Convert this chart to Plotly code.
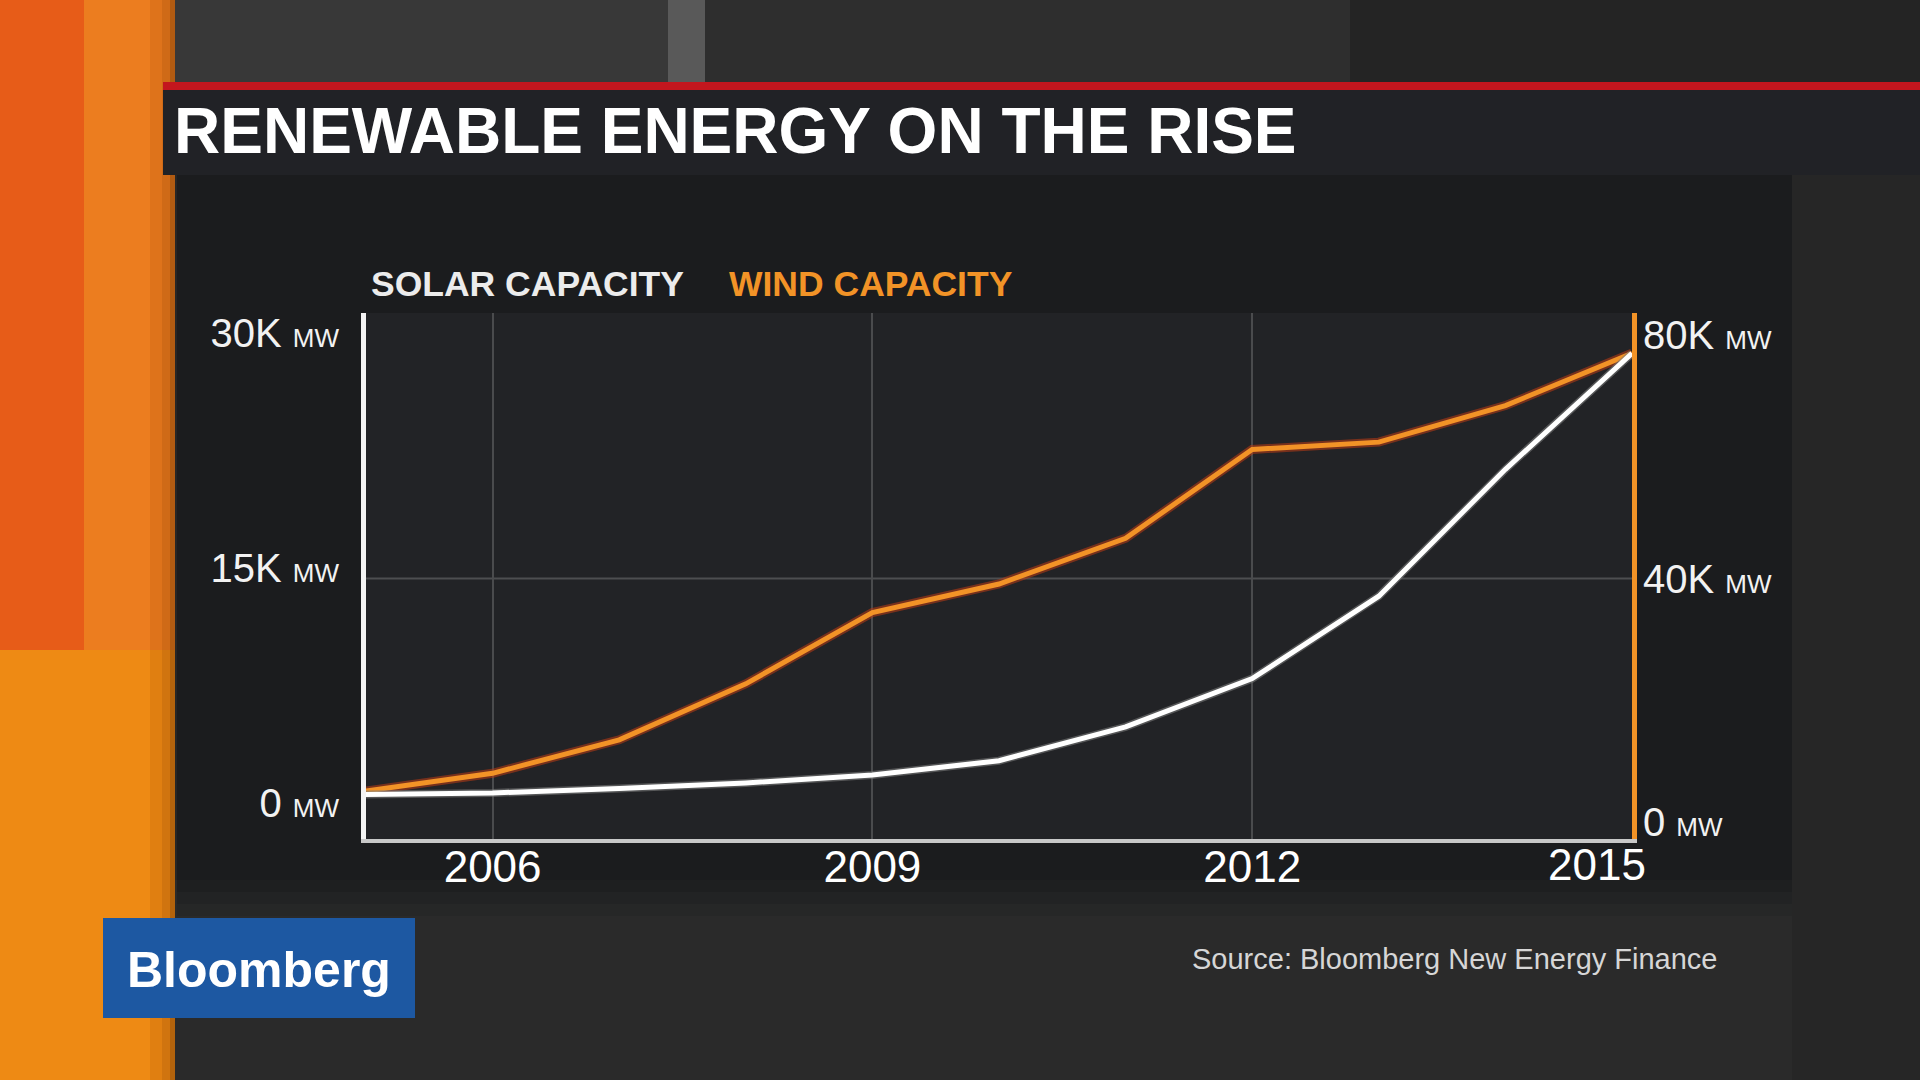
import plotly.graph_objects as go

# ---------------- data ----------------
years = [2005, 2006, 2007, 2008, 2009, 2010, 2011, 2012, 2013, 2014, 2015]
solar_mw = [540, 640, 920, 1280, 1790, 2700, 4860, 7940, 13200, 21300, 28700]
wind_mw = [5100, 8000, 13500, 22700, 34400, 39100, 46600, 61200, 62400, 68400, 77000]

x_ticks = [2006, 2009, 2012]
x_last = 2015
solar_ticks = [0, 15000, 30000]
solar_tick_text = ["0", "15K", "30K"]
wind_ticks = [0, 40000, 80000]
wind_tick_text = ["0", "40K", "80K"]

title_text = "RENEWABLE ENERGY ON THE RISE"
solar_name = "SOLAR CAPACITY"
wind_name = "WIND CAPACITY"
source_text = "Source: Bloomberg New Energy Finance"
logo_text = "Bloomberg"

# ---------------- geometry helpers ----------------
W, H = 1920, 1080
L, R, T, B = 366, 1632, 313, 839


def px(x):
    return (x - L) / (R - L)


def py(y):
    return (B - y) / (B - T)


def rect(x0, y0, x1, y1, color, layer="below"):
    return dict(type="rect", xref="paper", yref="paper",
                x0=px(x0), x1=px(x1), y0=py(y1), y1=py(y0),
                fillcolor=color, line=dict(width=0), layer=layer)


FONT = "Liberation Sans, Arial, sans-serif"
ORANGE = "#F29327"

shapes = [
    # background pieces
    rect(175, 0, 700, 84, "#383838"),
    rect(668, 0, 705, 84, "#595959"),
    rect(705, 0, 1350, 84, "#2e2e2e"),
    rect(1350, 0, 1920, 84, "#242424"),
    rect(175, 880, 1920, 1080, "#2a2a2a"),
    rect(1792, 175, 1920, 1080, "#262626"),
    # orange strip
    rect(0, 0, 84, 650, "#E75C18"),
    rect(84, 0, 175, 650, "#EC7D1F"),
    rect(0, 650, 175, 1080, "#EE8A14"),
    rect(150, 0, 162, 1080, "rgba(120,50,0,0.12)"),
    rect(162, 0, 170, 1080, "rgba(120,50,0,0.25)"),
    rect(170, 0, 175, 1080, "rgba(90,40,0,0.40)"),
    # red line and title bar
    rect(163, 82, 1920, 90, "#C3161E"),
    rect(163, 90, 1920, 175, "#212226"),
    # chart panel (soft fade at the bottom)
    rect(177, 175, 1792, 880, "#1b1c1e"),
    rect(177, 880, 1792, 892, "#1e1f20"),
    rect(177, 892, 1792, 904, "#222324"),
    rect(177, 904, 1792, 916, "#262727"),
    # plot area background
    rect(L, T, R, B, "#222326"),
    # logo box
    rect(103, 918, 415, 1018, "#1d58a2", layer="above"),
]

fig = go.Figure()

# wind: glow underlay + main line (base y axis, right side)
fig.add_trace(go.Scatter(
    x=years, y=wind_mw, mode="lines", yaxis="y",
    line=dict(color="rgba(190,60,20,0.55)", width=9),
    hoverinfo="skip", showlegend=False))
fig.add_trace(go.Scatter(
    x=years, y=wind_mw, mode="lines", yaxis="y", name=wind_name,
    line=dict(color=ORANGE, width=5), showlegend=False))
# solar (overlay axis, left side)
fig.add_trace(go.Scatter(
    x=years, y=solar_mw, mode="lines", yaxis="y2",
    line=dict(color="rgba(120,120,120,0.6)", width=8),
    hoverinfo="skip", showlegend=False))
fig.add_trace(go.Scatter(
    x=years, y=solar_mw, mode="lines", yaxis="y2", name=solar_name,
    line=dict(color="#FFFFFF", width=5), showlegend=False))

# gridline at 40K (right axis)
shapes.append(dict(type="line", xref="paper", yref="y", x0=0, x1=1,
                   y0=40000, y1=40000, line=dict(color="#4d4e50", width=2),
                   layer="below"))

MW = "<span style='font-size:26px'>MW</span>"

annotations = [
    dict(text=solar_name, xref="paper", yref="paper", x=px(369), y=py(284),
         xanchor="left", yanchor="middle", showarrow=False,
         font=dict(family=FONT, size=35.5, color="#ECECEC", weight="bold")),
    dict(text=wind_name, xref="paper", yref="paper", x=px(727), y=py(284),
         xanchor="left", yanchor="middle", showarrow=False,
         font=dict(family=FONT, size=35.5, color=ORANGE, weight="bold")),
    dict(text=str(x_last), xref="x", yref="paper", x=x_last, y=py(864),
         xanchor="right", yanchor="middle", xshift=16, showarrow=False,
         font=dict(family=FONT, size=44, color="#FFFFFF")),
    dict(text=source_text, xref="paper", yref="paper", x=px(1719), y=py(959),
         xanchor="right", yanchor="middle", showarrow=False,
         font=dict(family=FONT, size=29, color="#D6D6D6")),
    dict(text=logo_text, xref="paper", yref="paper", x=px(259), y=py(970),
         xanchor="center", yanchor="middle", showarrow=False,
         font=dict(family=FONT, size=50, color="#FFFFFF", weight="bold")),
]

fig.update_layout(
    width=W, height=H,
    margin=dict(l=L, r=W - R, t=T, b=H - B, pad=0),
    paper_bgcolor="#262626",
    plot_bgcolor="rgba(0,0,0,0)",
    showlegend=False,
    title=dict(text=title_text, xref="container", yref="container",
               x=174 / W, y=1 - 131 / H, xanchor="left", yanchor="middle",
               font=dict(family=FONT, size=64, color="#FFFFFF", weight="bold")),
    xaxis=dict(range=[2005, 2015], tickvals=x_ticks,
               ticktext=[str(v) for v in x_ticks],
               showgrid=True, gridcolor="#4a4b4d", gridwidth=2,
               zeroline=False, showline=True, linecolor="#C8C8C8", linewidth=4,
               ticks="", ticklabelstandoff=-14,
               tickfont=dict(family=FONT, size=44, color="#FFFFFF")),
    yaxis=dict(range=[-2793, 83614], side="right", tickvals=wind_ticks,
               ticktext=[t + " " + MW for t in wind_tick_text],
               showgrid=False, zeroline=False, showline=True,
               linecolor=ORANGE, linewidth=5,
               ticks="", ticklabelstandoff=-2,
               tickfont=dict(family=FONT, size=40, color="#F2F2F2")),
    yaxis2=dict(range=[-2298, 31277], side="left", overlaying="y",
                tickvals=solar_ticks,
                ticktext=[t + " " + MW for t in solar_tick_text],
                showgrid=False, zeroline=False, showline=True,
                linecolor="#F4F4F4", linewidth=5,
                ticks="outside", ticklen=14, tickcolor="rgba(0,0,0,0)",
                tickfont=dict(family=FONT, size=40, color="#F2F2F2")),
    shapes=shapes,
    annotations=annotations,
)

fig.write_html("out.html")
